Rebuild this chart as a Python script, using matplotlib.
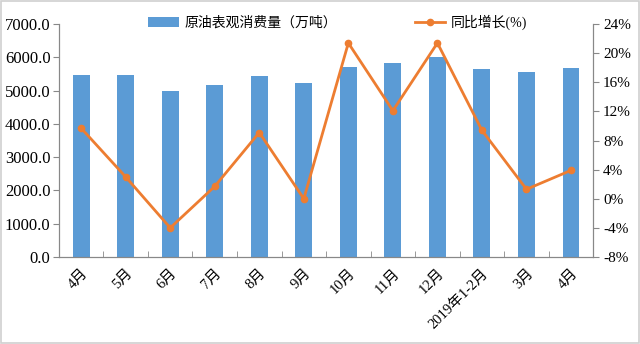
import matplotlib
matplotlib.use("Agg")
import matplotlib.pyplot as plt
import numpy as np

categories = ["4月", "5月", "6月", "7月", "8月", "9月", "10月", "11月", "12月", "2019年1-2月", "3月", "4月"]
consumption = [5480, 5480, 5000, 5170, 5430, 5220, 5700, 5820, 6000, 5640, 5570, 5690]
growth = [9.7, 3.0, -4.0, 1.7, 9.1, 0.0, 21.4, 12.1, 21.4, 9.4, 1.3, 3.9]
left_ticks = [0, 1000, 2000, 3000, 4000, 5000, 6000, 7000]
right_ticks = [-8, -4, 0, 4, 8, 12, 16, 20, 24]

fam = ["Liberation Serif", "Noto Sans CJK SC", "DejaVu Sans"]
plt.rcParams["font.family"] = fam

fig = plt.figure(figsize=(6.4, 3.44), dpi=100)
fig.patches.append(plt.Rectangle((0.002, 0.003), 0.996, 0.994, transform=fig.transFigure,
                                 fill=False, edgecolor="#d0d0d0", linewidth=1.2))
ax = fig.add_axes([0.092, 0.253, 0.835, 0.677])
x = np.arange(len(categories))
bars = ax.bar(x, consumption, width=0.38, color="#5B9BD5", label="原油表观消费量（万吨）", zorder=2)
ax.set_ylim(0, 7000)
ax.set_xlim(-0.5, len(categories) - 0.5)
ax.set_yticks(left_ticks)
ax.set_yticklabels([f"{v}.0" if v else "0.0" for v in left_ticks], fontsize=12)
ax.set_xticks(x)
ax.set_xticklabels(categories, rotation=45, ha="right", rotation_mode="anchor", fontsize=10.5)
ax.tick_params(axis="x", length=0, pad=7)
ax.set_xticks(np.arange(-0.5, len(categories)), minor=True)
ax.tick_params(axis="x", which="minor", direction="in", length=4, color="#888888")
ax.tick_params(axis="y", length=4, color="#888888", direction="out", pad=2)
ax.spines["top"].set_visible(False)
for s in ["left", "bottom", "right"]:
    ax.spines[s].set_color("#888888")

ax2 = ax.twinx()
line, = ax2.plot(x, growth, color="#ED7D31", marker="o", markersize=4.5, linewidth=2, label="同比增长(%)", zorder=3)
ax2.set_ylim(-8, 24)
ax2.set_yticks(right_ticks)
ax2.set_yticklabels([f"{v}%" for v in right_ticks], fontsize=11)
ax2.tick_params(axis="y", length=4, color="#888888", direction="out", pad=3)
ax2.spines["top"].set_visible(False)
for s in ["left", "bottom", "right"]:
    ax2.spines[s].set_color("#888888")

fig.legend([bars, line], ["原油表观消费量（万吨）", "同比增长(%)"], loc="center", bbox_to_anchor=(0.528, 0.935),
           ncol=2, frameon=False, fontsize=10, columnspacing=5.6, handlelength=2.2, handletextpad=0.4)

fig.savefig("out.png", dpi=100)
